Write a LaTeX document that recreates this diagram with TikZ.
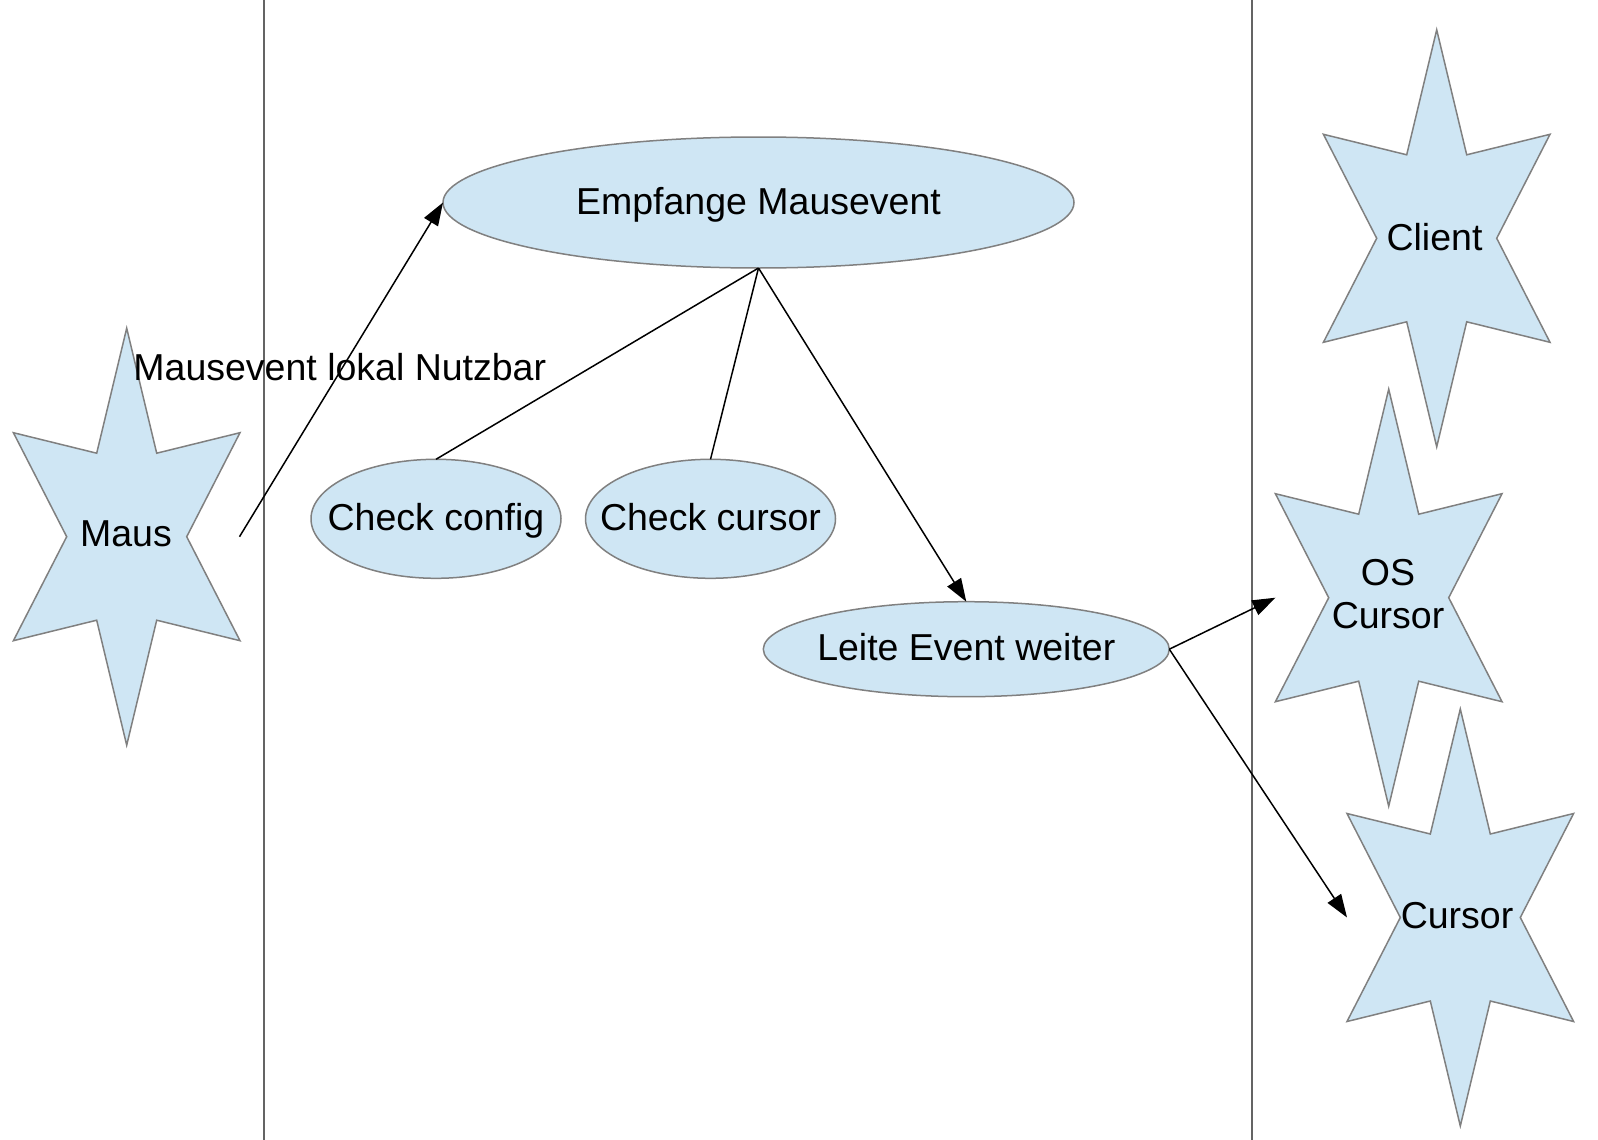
\documentclass[tikz,border=0pt]{standalone}
\usepackage{fontspec}
\setmainfont{Liberation Sans}
\usetikzlibrary{shapes.geometric,arrows.meta}
\definecolor{shapefill}{RGB}{207,230,244}
\definecolor{shapeline}{RGB}{128,128,128}
\definecolor{sepline}{RGB}{100,100,100}
\newcommand\diagfont{\fontsize{37.5}{43.3}\selectfont}
\tikzset{
  starshape/.style={fill=shapefill,draw=shapeline,line width=1.5pt,line join=miter},
  oval/.style={ellipse,fill=shapefill,draw=shapeline,line width=1.5pt,
    inner xsep=-130pt,inner ysep=-20pt,outer sep=0pt,font=\diagfont,
    text height=28pt,text depth=5pt},
  lbltext/.style={inner sep=0pt,font=\diagfont,anchor=base},
  conn/.style={draw=black,line width=1.5pt},
  arr/.style={conn,-{Triangle[length=23pt,width=16pt]}},
  sepl/.style={draw=sepline,line width=2pt},
}
\newcommand\hexstar[2]{%
  \path[starshape,shift={(#1,#2)}]
    (0,-208.5) -- (30,-83.5) -- (113.3,-104) -- (60,0) -- (113.3,104) --
    (30,83.5) -- (0,208.5) -- (-30,83.5) -- (-113.3,104) -- (-60,0) --
    (-113.3,-104) -- (-30,-83.5) -- cycle;}
\begin{document}
\begin{tikzpicture}[x=1pt,y=-1pt]
  \useasboundingbox[fill=white] (0,0) rectangle (1598,1140);
  % separators
  \draw[sepl] (263.5,0) -- (263.5,1140);
  \draw[sepl] (1251.7,0) -- (1251.7,1140);
  % stars
  \hexstar{126.7}{536.7}
  \hexstar{1436.7}{238.3}
  \hexstar{1388.7}{597.7}
  \hexstar{1460.3}{917.5}
  \coordinate (maus-e) at (239.5,536.7);
  \coordinate (oscur-w) at (1275.4,597.7);
  \coordinate (cursor-w) at (1347,917.5);
  % ellipses
  \node[oval,minimum width=631pt,minimum height=131pt] (empf) at (758.5,202.5) {Empfange Mausevent};
  \node[oval,minimum width=250pt,minimum height=119pt] (cconf) at (436,518.8) {Check config};
  \node[oval,minimum width=250pt,minimum height=119pt] (ccur) at (710.5,518.8) {Check cursor};
  \node[oval,minimum width=406pt,minimum height=95pt] (leite) at (966.3,649.2) {Leite Event weiter};
  % star texts
  \node[lbltext] (maus) at (126,546.7) {Maus};
  \node[lbltext] (client) at (1434.5,250.7) {Client};
  \node[lbltext,align=center] (oscur) at (1388,628.3) {OS\\Cursor};
  \node[lbltext] (cursor) at (1457,928.3) {Cursor};
  % connectors
  \draw[arr] (maus-e) -- (empf.west);
  \draw[conn] (empf.south) -- (cconf.north);
  \draw[conn] (empf.south) -- (ccur.north);
  \draw[arr] (empf.south) -- (leite.north);
  \draw[arr] (leite.east) -- (oscur-w);
  \draw[arr] (leite.east) -- (cursor-w);
  % label
  \node[lbltext] (mlabel) at (339.8,380.7) {Mausevent lokal Nutzbar};
\end{tikzpicture}
\end{document}
